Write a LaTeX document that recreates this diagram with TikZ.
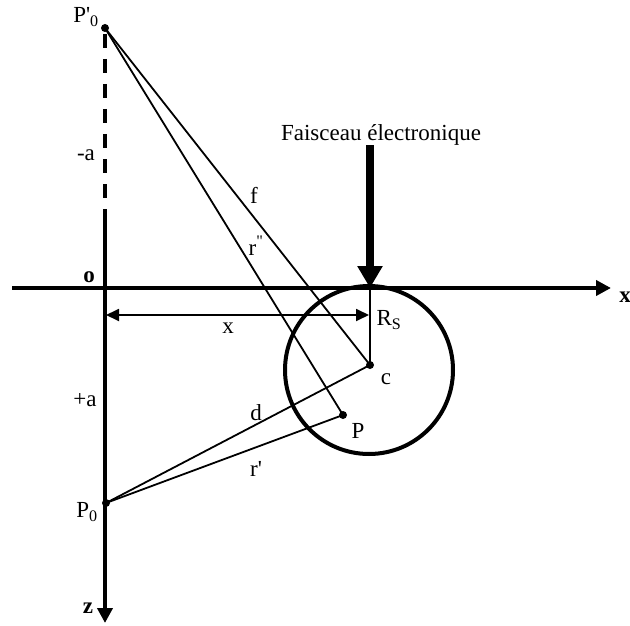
\documentclass[tikz,border=0pt]{standalone}
\usepackage{fontspec}
\newfontfamily\tnr{Liberation Serif}
\usetikzlibrary{arrows.meta}
\tikzset{
  lbl/.style={font=\tnr\fontsize{23}{26}\selectfont, inner sep=0pt},
  blbl/.style={font=\tnr\bfseries\fontsize{23}{26}\selectfont, inner sep=0pt},
  dot/.style={circle, fill=black, inner sep=0pt, minimum size=8pt},
  axis/.style={line width=4pt, -{Triangle[length=15pt,width=15pt]}},
  thin/.style={line width=1.8pt},
}
\begin{document}
\begin{tikzpicture}[x=1pt,y=-1pt]
\useasboundingbox (0,0) rectangle (630,626);
% circle (sphere)
\node[circle, draw, line width=4pt, minimum size=168pt, inner sep=0pt] (sphere) at (369,370) {};
% coordinates
\coordinate (xstart) at (12,288);
\coordinate (xend) at (611,288);
\coordinate (ztop) at (105,213);
\coordinate (zend) at (105,623);
\coordinate (dtop) at (105,34);
\coordinate (contact) at (370,288);
\coordinate (beamtop) at (370,145);
\coordinate (dimL) at (106,315);
\coordinate (dimR) at (369,315);
% points
\node[dot] (Pp) at (105,28) {};
\node[dot] (P0) at (106,503) {};
\node[dot] (C) at (370,365) {};
\node[dot] (P) at (343,415) {};
% axes
\draw[axis] (xstart) -- (xend);
\draw[axis] (ztop) -- (zend);
\draw[line width=4pt, dash pattern=on 14pt off 11pt] (dtop) -- (ztop);
% beam
\draw[line width=8pt, -{Triangle[length=22pt,width=24pt]}] (beamtop) -- (contact);
% dimension x
\draw[thin, {Triangle[length=13pt,width=12pt]}-{Triangle[length=13pt,width=12pt]}] (dimL) -- (dimR);
% R_S
\draw[thin] (contact) -- (C.center);
% lines
\draw[thin] (Pp.center) -- (C.center);
\draw[thin] (Pp.center) -- (P.center);
\draw[thin] (P0.center) -- (C.center);
\draw[thin] (P0.center) -- (P.center);
% labels
\node[lbl] (lPp) at (86,17) {P'\textsubscript{0}};
\node[lbl] (lP0) at (87,512) {P\textsubscript{0}};
\node[lbl] (lma) at (86,155) {-a};
\node[lbl] (lpa) at (85,400) {+a};
\node[blbl] (lo) at (89,277) {o};
\node[blbl] (lx) at (625,297) {x};
\node[blbl] (lz) at (88,608) {z};
\node[lbl] (lbeam) at (381,135) {Faisceau électronique};
\node[lbl] (lf) at (254,195) {f};
\node[lbl] (lr2) at (256,246) {r\textsuperscript{"}};
\node[lbl] (lxd) at (228,328) {x};
\node[lbl] (lRs) at (389,320) {R\textsubscript{S}};
\node[lbl] (lc) at (386,379) {c};
\node[lbl] (lP) at (358,431) {P};
\node[lbl] (ld) at (256,413) {d};
\node[lbl] (lr1) at (256,469) {r'};
\end{tikzpicture}
\end{document}
